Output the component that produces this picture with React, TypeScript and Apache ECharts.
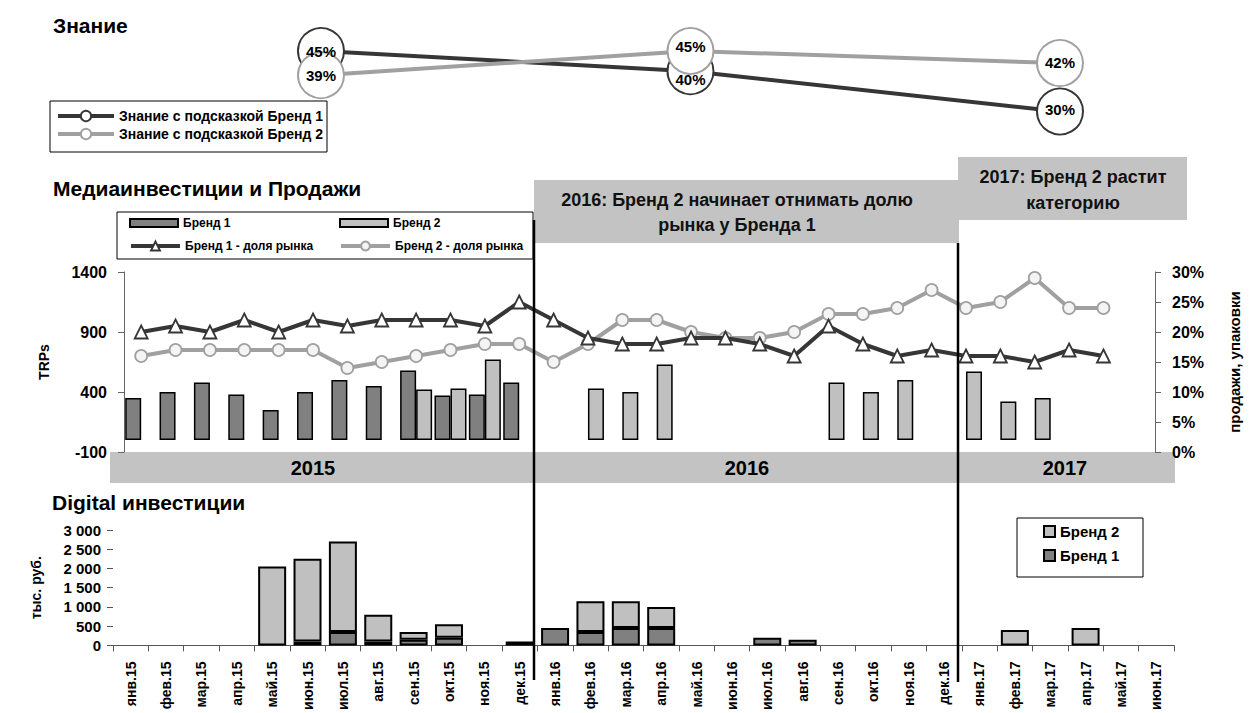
import React, { useEffect, useRef } from 'react';
import * as echarts from 'echarts';

const months = ['янв.15', 'фев.15', 'мар.15', 'апр.15', 'май.15', 'июн.15', 'июл.15', 'авг.15', 'сен.15', 'окт.15', 'ноя.15', 'дек.15',
  'янв.16', 'фев.16', 'мар.16', 'апр.16', 'май.16', 'июн.16', 'июл.16', 'авг.16', 'сен.16', 'окт.16', 'ноя.16', 'дек.16',
  'янв.17', 'фев.17', 'мар.17', 'апр.17', 'май.17', 'июн.17'];

const awarenessPeriods = ['2015', '2016', '2017'];
const awarenessBrand1 = [45, 40, 30];
const awarenessBrand2 = [39, 45, 42];

const trpBrand1 = [350, 400, 480, 380, 250, 400, 500, 450, 580, 370, 380, 480,
  null, null, null, null, null, null, null, null, null, null, null, null,
  null, null, null, null, null, null];
const trpBrand2 = [null, null, null, null, null, null, null, null, 420, 430, 670, null,
  null, 430, 400, 630, null, null, null, null, 480, 400, 500, null,
  570, 320, 350, null, null, null];

const shareBrand1 = [20, 21, 20, 22, 20, 22, 21, 22, 22, 22, 21, 25,
  22, 19, 18, 18, 19, 19, 18, 16, 21, 18, 16, 17,
  16, 16, 15, 17, 16, null];
const shareBrand2 = [16, 17, 17, 17, 17, 17, 14, 15, 16, 17, 18, 18,
  15, 18, 22, 22, 20, 19, 19, 20, 23, 23, 24, 27,
  24, 25, 29, 24, 24, null];

const digitalBrand1 = [null, null, null, null, null, 100, 350, 100, 150, 200, null, 100,
  450, 350, 450, 450, null, null, 200, 150, null, null, null, null,
  null, null, null, null, null, null];
const digitalBrand2 = [null, null, null, null, 2050, 2150, 2350, 700, 200, 350, null, null,
  null, 800, 700, 550, null, null, null, null, null, null, null, null,
  null, 400, null, 450, null, null];

const yearLabels = ['2015', '2016', '2017'];

const FONT = "'Liberation Sans', Arial, sans-serif";
const BAR1 = '#808080';
const BAR2 = '#c0c0c0';
const LINE1 = '#363636';
const LINE2 = '#a0a0a0';

const fmtThousands = (v: number) => String(v).replace(/\B(?=(\d{3})+(?!\d))/g, ' ');

export default function App() {
  const ref = useRef<HTMLDivElement>(null);
  useEffect(() => {
    if (!ref.current) return;
    const chart = echarts.init(ref.current, undefined, { renderer: 'svg' });
    const boldText = (size: number) => ({ fontFamily: FONT, fontSize: size, fontWeight: 'bold' as const, color: '#000' });
    const labelOffsets1 = [[0, 0], [0, 8], [0, -2]];
    const labelOffsets2 = [[0, 0], [0, -5], [0, -1]];
    const awarenessLabelSeries = (name: string, values: number[], offsets: number[][]) => ({
      name, type: 'scatter', xAxisIndex: 0, yAxisIndex: 0, z: 10, symbolSize: 2, silent: true,
      itemStyle: { color: 'rgba(255,255,255,0)' },
      data: values.map((v, i) => ({ value: v, label: { offset: offsets[i] } })),
      label: { show: true, position: 'inside', formatter: '{c}%', ...boldText(15), color: '#000', textBorderWidth: 0, opacity: 1 },
    });
    const option: any = {
      animation: false,
      backgroundColor: '#ffffff',
      textStyle: { fontFamily: FONT },
      grid: [
        { left: 321, right: 190, top: 51, height: 60.5 },
        { left: 124, right: 90, top: 272, height: 180 },
        { left: 113, right: 76, top: 530, height: 117 },
      ],
      xAxis: [
        { gridIndex: 0, type: 'category', data: awarenessPeriods, boundaryGap: false, show: false },
        { gridIndex: 1, type: 'category', data: months, show: false },
        {
          gridIndex: 2, type: 'category', data: months,
          axisLine: { lineStyle: { color: '#555', width: 1 } },
          axisTick: { show: true, length: 6, lineStyle: { color: '#555' } },
          axisLabel: { rotate: 90, interval: 0, margin: 16, ...boldText(14) },
        },
      ],
      yAxis: [
        { gridIndex: 0, type: 'value', min: 30, max: 45, show: false },
        {
          gridIndex: 1, type: 'value', min: -100, max: 1400, interval: 500,
          name: 'TRPs', nameLocation: 'middle', nameGap: 73, nameTextStyle: boldText(14),
          axisLine: { show: true, lineStyle: { color: '#666' } },
          axisTick: { show: true, length: 6, lineStyle: { color: '#666' } },
          axisLabel: { margin: 17, formatter: (v: number) => String(v), ...boldText(16) },
          splitLine: { show: false },
        },
        {
          gridIndex: 1, type: 'value', position: 'right', min: 0, max: 30, interval: 5,
          name: 'продажи, упаковки', nameLocation: 'middle', nameGap: 72, nameTextStyle: boldText(15),
          axisLine: { show: true, lineStyle: { color: '#666' } },
          axisTick: { show: true, length: 6, lineStyle: { color: '#666' } },
          axisLabel: { margin: 17, formatter: '{value}%', ...boldText(16) },
          splitLine: { show: false },
        },
        {
          gridIndex: 2, type: 'value', min: 0, max: 3000, interval: 500,
          name: 'тыс. руб.', nameLocation: 'middle', nameGap: 70, nameTextStyle: boldText(14),
          axisLine: { show: false },
          axisTick: { show: true, length: 6, lineStyle: { color: '#555' } },
          axisLabel: { margin: 12, formatter: (v: number) => fmtThousands(v), ...boldText(15) },
          splitLine: { show: false },
        },
      ],
      legend: [
        {
          data: ['Знание с подсказкой Бренд 1', 'Знание с подсказкой Бренд 2'], orient: 'vertical',
          left: 56, top: 109, itemWidth: 56, itemHeight: 13, itemGap: 4, padding: 0, selectedMode: false,
          lineStyle: { width: 4 },
          textStyle: boldText(14),
        },
        { data: [{ name: 'Бренд 1', icon: 'rect' }], left: 129, top: 217, itemWidth: 48, itemHeight: 8, padding: 0, selectedMode: false, textStyle: boldText(12) },
        { data: [{ name: 'Бренд 2', icon: 'rect' }], left: 339, top: 217, itemWidth: 48, itemHeight: 8, padding: 0, selectedMode: false, textStyle: boldText(12) },
        { data: ['Бренд 1 - доля рынка'], left: 129, top: 240, itemWidth: 49, itemHeight: 11, padding: 0, selectedMode: false, lineStyle: { width: 4 }, textStyle: boldText(12) },
        { data: ['Бренд 2 - доля рынка'], left: 339, top: 240, itemWidth: 49, itemHeight: 11, padding: 0, selectedMode: false, lineStyle: { width: 4 }, textStyle: boldText(12) },
        {
          data: [{ name: 'Бренд 2', icon: 'rect' }, { name: 'Бренд 1', icon: 'rect' }], orient: 'vertical',
          left: 1043, top: 524, itemWidth: 11, itemHeight: 11, itemGap: 9, padding: 0, selectedMode: false,
          textStyle: boldText(15),
        },
      ],
      series: [
        {
          name: 'Знание с подсказкой Бренд 1', type: 'line', xAxisIndex: 0, yAxisIndex: 0, data: awarenessBrand1,
          symbol: 'circle', symbolSize: 46, clip: false, z: 3,
          lineStyle: { color: LINE1, width: 4 },
          itemStyle: { color: '#fff', borderColor: LINE1, borderWidth: 2 },
        },
        {
          name: 'Знание с подсказкой Бренд 2', type: 'line', xAxisIndex: 0, yAxisIndex: 0, data: awarenessBrand2,
          symbol: 'circle', symbolSize: 46, clip: false, z: 4,
          lineStyle: { color: LINE2, width: 4 },
          itemStyle: { color: '#fff', borderColor: LINE2, borderWidth: 2 },
        },
        awarenessLabelSeries('Знание Бренд 1, подписи', awarenessBrand1, labelOffsets1),
        awarenessLabelSeries('Знание Бренд 2, подписи', awarenessBrand2, labelOffsets2),
        {
          name: 'Бренд 1', type: 'bar', xAxisIndex: 1, yAxisIndex: 1, data: trpBrand1,
          barWidth: 16, barGap: '0%',
          itemStyle: { color: BAR1, borderColor: '#000', borderWidth: 1.5 },
        },
        {
          name: 'Бренд 2', type: 'bar', xAxisIndex: 1, yAxisIndex: 1, data: trpBrand2,
          barWidth: 16, barGap: '0%',
          itemStyle: { color: BAR2, borderColor: '#000', borderWidth: 1.5 },
        },
        {
          name: 'Бренд 1 - доля рынка', type: 'line', xAxisIndex: 1, yAxisIndex: 2, data: shareBrand1,
          symbol: 'triangle', symbolSize: 13, z: 5,
          lineStyle: { color: LINE1, width: 4 },
          itemStyle: { color: '#fff', borderColor: LINE1, borderWidth: 1.8 },
        },
        {
          name: 'Бренд 2 - доля рынка', type: 'line', xAxisIndex: 1, yAxisIndex: 2, data: shareBrand2,
          symbol: 'circle', symbolSize: 12, z: 4,
          lineStyle: { color: LINE2, width: 4 },
          itemStyle: { color: '#f4f4f4', borderColor: LINE2, borderWidth: 1.8 },
        },
        {
          name: 'Бренд 1', type: 'bar', xAxisIndex: 2, yAxisIndex: 3, data: digitalBrand1, stack: 'digital',
          barWidth: 28,
          itemStyle: { color: BAR1, borderColor: '#000', borderWidth: 2 },
        },
        {
          name: 'Бренд 2', type: 'bar', xAxisIndex: 2, yAxisIndex: 3, data: digitalBrand2, stack: 'digital',
          barWidth: 28,
          itemStyle: { color: BAR2, borderColor: '#000', borderWidth: 2 },
        },
      ],
      graphic: [
        // titles
        { type: 'text', x: 53, y: 25, z: 1, style: { text: 'Знание', font: `bold 21px ${FONT}`, fill: '#000', align: 'left', verticalAlign: 'middle' } },
        { type: 'text', x: 53, y: 188, z: 1, style: { text: 'Медиаинвестиции и Продажи', font: `bold 21px ${FONT}`, fill: '#000', align: 'left', verticalAlign: 'middle' } },
        { type: 'text', x: 52, y: 502, z: 1, style: { text: 'Digital инвестиции', font: `bold 21px ${FONT}`, fill: '#000', align: 'left', verticalAlign: 'middle' } },
        // legend frames
        { type: 'rect', z: 0, shape: { x: 50, y: 101, width: 277, height: 51 }, style: { fill: '#fff', stroke: '#000', lineWidth: 1 } },
        { type: 'rect', z: 0, shape: { x: 117, y: 212, width: 416, height: 47 }, style: { fill: '#fff', stroke: '#000', lineWidth: 1 } },
        { type: 'rect', z: 0, shape: { x: 1017, y: 518, width: 126, height: 59 }, style: { fill: '#fff', stroke: '#000', lineWidth: 1 } },
        // year band
        { type: 'rect', z: 0, shape: { x: 110, y: 452, width: 1065, height: 31 }, style: { fill: '#c3c3c3' } },
        { type: 'text', x: 313, y: 468, z: 1, style: { text: yearLabels[0], font: `bold 20px ${FONT}`, fill: '#000', align: 'center', verticalAlign: 'middle' } },
        { type: 'text', x: 747, y: 468, z: 1, style: { text: yearLabels[1], font: `bold 20px ${FONT}`, fill: '#000', align: 'center', verticalAlign: 'middle' } },
        { type: 'text', x: 1065, y: 468, z: 1, style: { text: yearLabels[2], font: `bold 20px ${FONT}`, fill: '#000', align: 'center', verticalAlign: 'middle' } },
        // annotation boxes
        { type: 'rect', z: 21, shape: { x: 534, y: 180, width: 425, height: 63 }, style: { fill: '#c3c3c3' } },
        { type: 'text', x: 737, y: 200, z: 22, style: { text: '2016: Бренд 2 начинает отнимать долю', font: `bold 18px ${FONT}`, fill: '#111', align: 'center', verticalAlign: 'middle' } },
        { type: 'text', x: 737, y: 225, z: 22, style: { text: 'рынка у Бренда 1', font: `bold 18px ${FONT}`, fill: '#111', align: 'center', verticalAlign: 'middle' } },
        { type: 'rect', z: 21, shape: { x: 958, y: 157, width: 229, height: 63 }, style: { fill: '#c3c3c3' } },
        { type: 'text', x: 1073, y: 177, z: 22, style: { text: '2017: Бренд 2 растит', font: `bold 18px ${FONT}`, fill: '#111', align: 'center', verticalAlign: 'middle' } },
        { type: 'text', x: 1073, y: 203, z: 22, style: { text: 'категорию', font: `bold 18px ${FONT}`, fill: '#111', align: 'center', verticalAlign: 'middle' } },
        // separators
        { type: 'line', z: 25, shape: { x1: 534, y1: 220, x2: 534, y2: 680 }, style: { stroke: '#000', lineWidth: 2.5 } },
        { type: 'line', z: 25, shape: { x1: 958, y1: 243, x2: 958, y2: 682 }, style: { stroke: '#000', lineWidth: 2.5 } },
      ],
    };
    chart.setOption(option);
    return () => chart.dispose();
  }, []);
  return <div ref={ref} style={{ position: 'absolute', left: 0, top: 0, width: 1250, height: 713 }} />;
}
